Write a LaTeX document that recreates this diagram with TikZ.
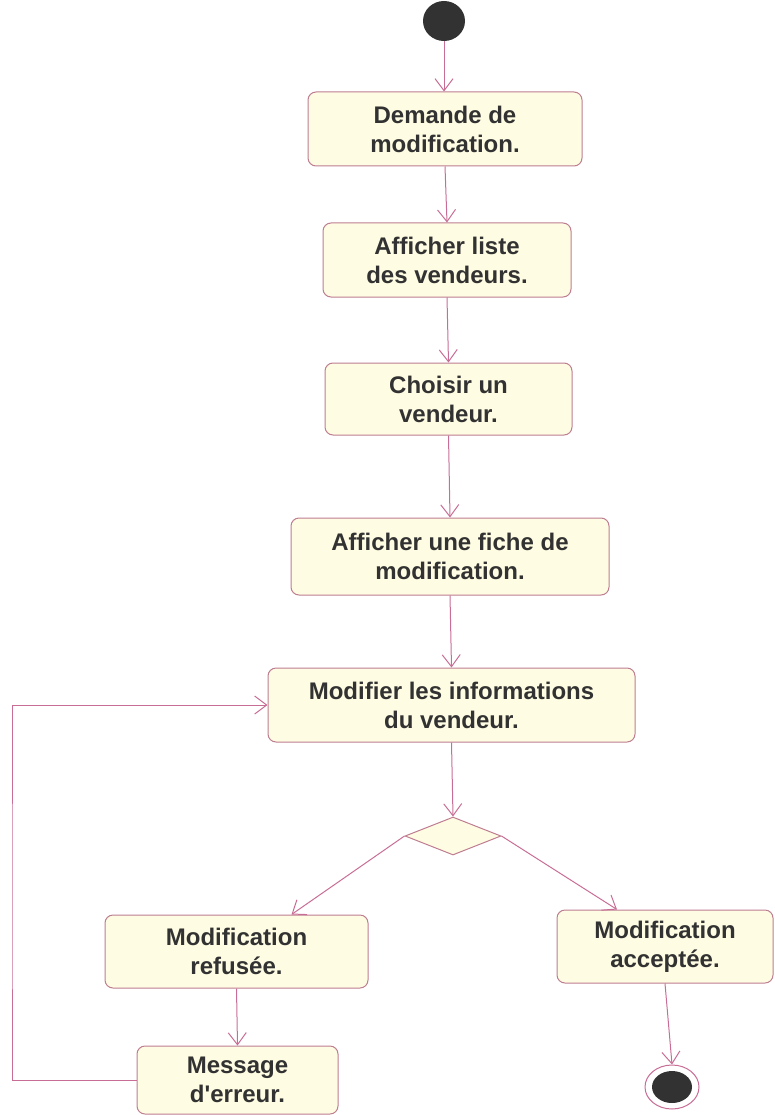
\documentclass[tikz,border=0pt]{standalone}
\usepackage{fontspec}
\setmainfont{Liberation Sans}
\usetikzlibrary{arrows.meta,shapes.geometric}

\definecolor{flowline}{RGB}{200,110,150}
\definecolor{boxfill}{RGB}{254,252,226}
\definecolor{boxline}{RGB}{190,125,145}
\definecolor{inkdark}{RGB}{50,50,50}

\tikzset{
  activity/.style={draw=boxline, fill=boxfill, line width=1pt, rounded corners=8pt,
    align=center, inner sep=0pt, font=\bfseries\fontsize{24}{29}\selectfont,
    text=inkdark},
  flow/.style={draw=flowline, line width=1pt,
    -{Straight Barb[length=12pt,width=18pt,line width=1pt]}},
  decision/.style={diamond, draw=boxline, fill=boxfill, line width=1pt,
    inner sep=0pt, minimum width=96pt, minimum height=38pt},
}

\begin{document}
\begin{tikzpicture}[x=1pt,y=-1pt]
\useasboundingbox (0,0) rectangle (775,1115);

% start and end states
\node[ellipse, fill=inkdark, minimum width=42pt, minimum height=40pt, inner sep=0pt] (start) at (444,21) {};
\node[ellipse, draw=flowline, line width=1pt, fill=white, minimum width=54pt, minimum height=44pt, inner sep=0pt] (stop) at (672,1087) {};
\node[ellipse, fill=inkdark, minimum width=40pt, minimum height=32pt, inner sep=0pt] at (stop) {};

% activities
\node[activity, minimum width=274pt, minimum height=74pt] (a1) at (445,129) {Demande de\\modification.};
\node[activity, minimum width=248pt, minimum height=74pt] (a2) at (447,260) {Afficher liste\\des vendeurs.};
\node[activity, minimum width=247pt, minimum height=72pt] (a3) at (448.5,399) {Choisir un\\vendeur.};
\node[activity, minimum width=318pt, minimum height=77pt] (a4) at (450,556.5) {Afficher une fiche de\\modification.};
\node[activity, minimum width=367pt, minimum height=74pt] (a5) at (451.5,705) {Modifier les informations\\du vendeur.};
\node[decision] (dec) at (453,836) {};
\node[activity, minimum width=263pt, minimum height=73pt] (a6) at (236.5,951.5) {Modification\\refusée.};
\node[activity, minimum width=201pt, minimum height=68pt] (a7) at (237.5,1080) {Message\\d\textquotesingle erreur.};
\node[activity, minimum width=216pt, minimum height=73pt] (a8) at (665,946.5) {Modification\\acceptée.};

\coordinate (loop) at (12,900);

% transitions
\draw[flow] (start) -- (a1.north -| start);
\draw[flow] (a1.south) -- (a2.north);
\draw[flow] (a2.south) -- (a3.north);
\draw[flow] (a3.south) -- (a4.north);
\draw[flow] (a4.south) -- (a5.north);
\draw[flow] (a5.south) -- (dec.north);
\draw[flow] (dec.west) -- ([xshift=55pt]a6.north);
\draw[flow] (dec.east) -- ([xshift=-48pt]a8.north);
\draw[flow] (a6.south) -- (a7.north);
\draw[flow] (a8.south) -- (stop.north);
\draw[flow] (a7.west) -| (loop) |- (a5.west);
\end{tikzpicture}
\end{document}
